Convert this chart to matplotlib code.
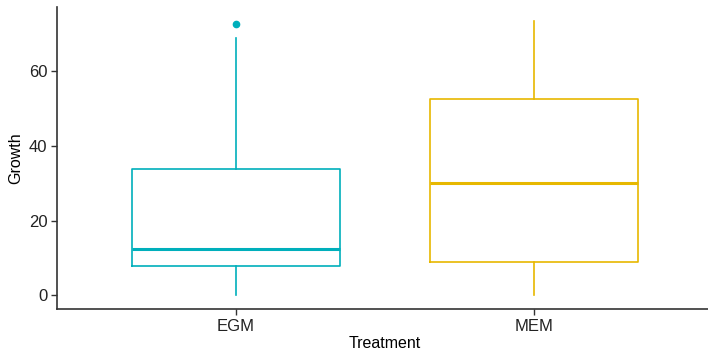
import matplotlib
matplotlib.use("Agg")
import matplotlib.pyplot as plt

# データ
treatments = ["EGM", "MEM"]
whisker_low = [0.0, 0.0]
q1 = [7.9, 8.8]
medians = [12.5, 30.0]
q3 = [33.7, 52.5]
whisker_high = [68.8, 73.5]
outliers = [[72.6], []]
colors = ["#00AFBB", "#E7B800"]

plt.rcParams["font.family"] = ["Liberation Sans", "DejaVu Sans"]

fig = plt.figure(figsize=(7.08, 3.55), dpi=100)
ax = fig.add_axes([57 / 708, 46 / 355, 656 / 708, 302 / 355])

stats = []
for i, name in enumerate(treatments):
    stats.append({
        "label": name,
        "whislo": whisker_low[i],
        "q1": q1[i],
        "med": medians[i],
        "q3": q3[i],
        "whishi": whisker_high[i],
        "fliers": outliers[i],
    })

for i, s in enumerate(stats):
    c = colors[i]
    ax.bxp([s], positions=[i + 1], widths=0.7, showcaps=False,
           boxprops=dict(color=c, linewidth=1.2),
           whiskerprops=dict(color=c, linewidth=1.2),
           medianprops=dict(color=c, linewidth=2.2),
           flierprops=dict(marker="o", markerfacecolor=c, markeredgecolor=c,
                           markersize=4.5))

# 軸の設定
ax.set_xlim(0.4, 2.6)
ax.set_ylim(-3.675, 77.175)
ax.set_yticks([0, 20, 40, 60])
ax.set_xticks([1, 2])
ax.set_xticklabels(treatments)
ax.set_xlabel("Treatment", fontsize=11.5, color="black", labelpad=2)
ax.set_ylabel("Growth", fontsize=11.5, color="black", labelpad=4)

for side in ["top", "right"]:
    ax.spines[side].set_visible(False)
for side in ["left", "bottom"]:
    ax.spines[side].set_linewidth(1.2)
    ax.spines[side].set_color("#333333")
ax.tick_params(axis="both", length=4, width=1.0, color="#333333",
               labelsize=12, labelcolor="#222222", pad=3)

fig.savefig("out.png", dpi=100)
